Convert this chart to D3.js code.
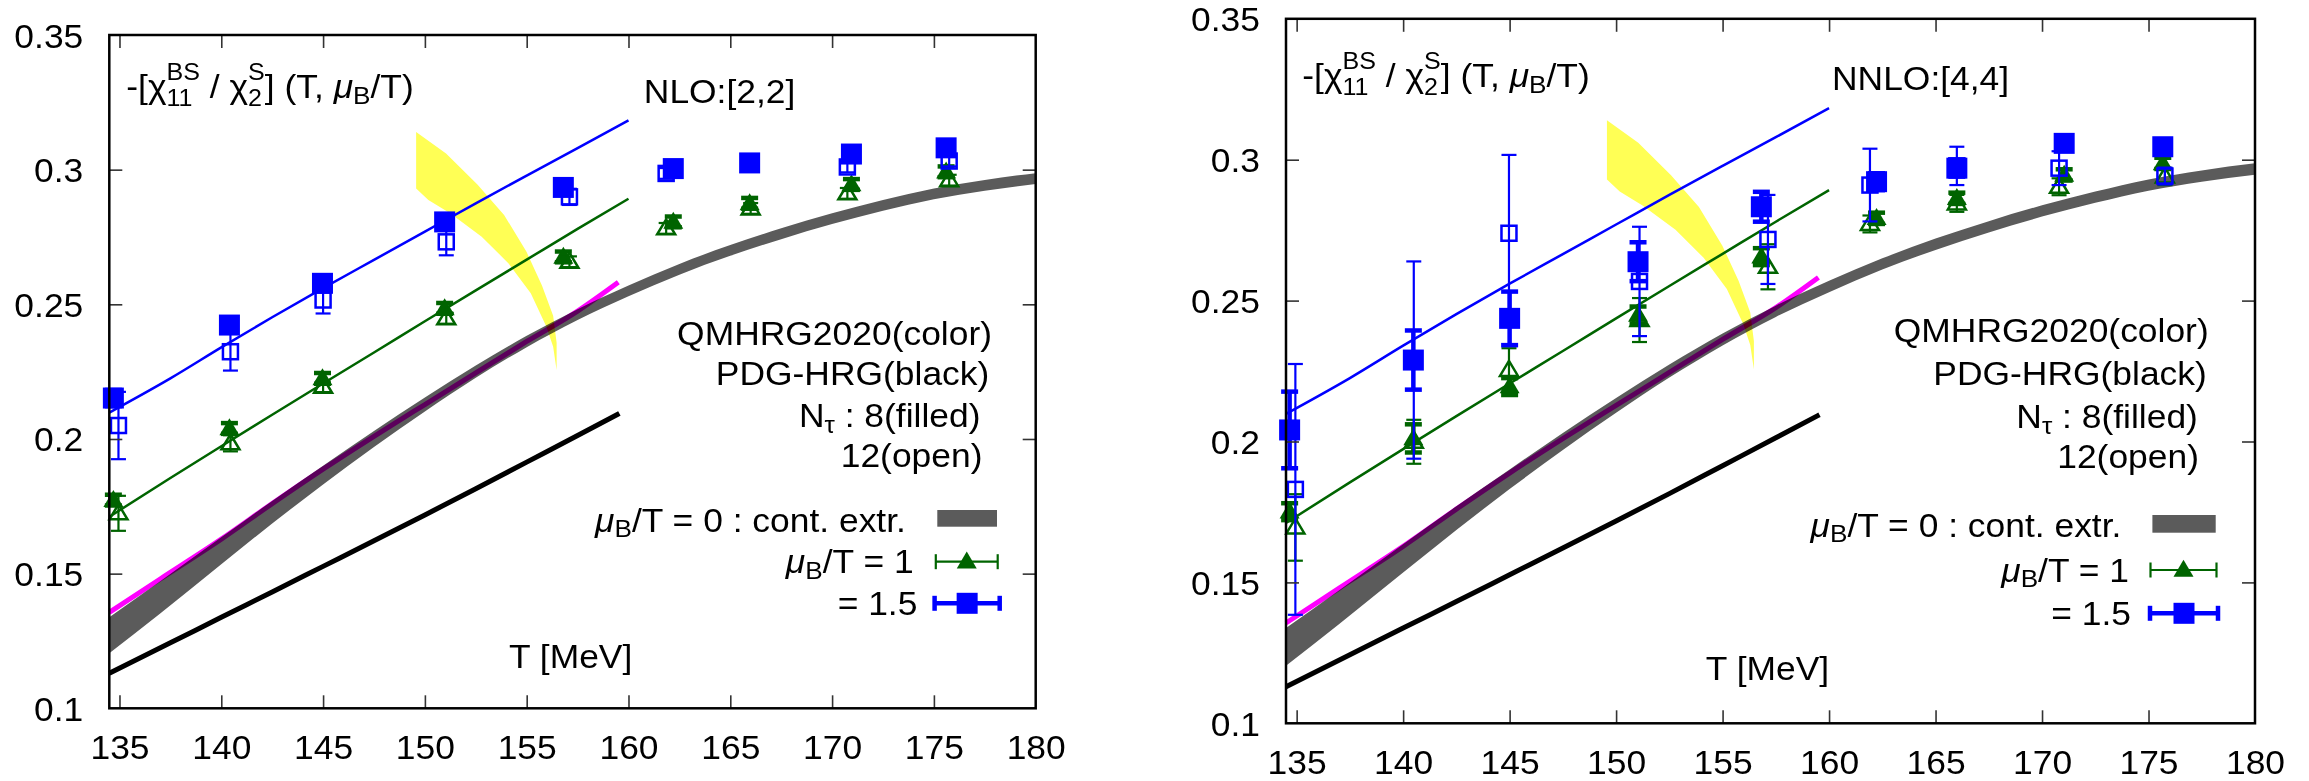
<!DOCTYPE html>
<html>
<head>
<meta charset="utf-8">
<script src="https://cdn.jsdelivr.net/npm/d3@7"></script>
<style>
html, body { margin: 0; padding: 0; background: #fff; }
svg text { font-family: "Liberation Sans", Arial, Helvetica, sans-serif; fill: #000; }
</style>
</head>
<body>
<svg id="chart" width="2309" height="781"></svg>
<script>
// axis ticks
const xTicks = [135, 140, 145, 150, 155, 160, 165, 170, 175, 180];
const xTickLabels = ["135", "140", "145", "150", "155", "160", "165", "170", "175", "180"];
const yTicks = [0.1, 0.15, 0.2, 0.25, 0.3, 0.35];
const yTickLabels = ["0.1", "0.15", "0.2", "0.25", "0.3", "0.35"];

// QMHRG2020 curves for mu_B/T = 1 (green) and 1.5 (blue)
const curveT = [134.5, 137.5, 140, 142.5, 145, 147.5, 150, 152.5, 155, 157.5, 160];
const blueCurve = [0.2098, 0.2225, 0.2340, 0.2452, 0.2560, 0.2665, 0.2770, 0.2875, 0.2978, 0.3080, 0.3183];
const greenCurve = [0.1711, 0.1855, 0.1973, 0.2090, 0.2206, 0.2321, 0.2437, 0.2552, 0.2666, 0.2780, 0.2892];

// QMHRG2020 mu_B/T = 0 (magenta)
const magentaT = [134.5, 137, 140, 142.5, 145, 147.5, 150, 152.5, 155, 157.5, 159.5];
const magentaCurve = [0.1356, 0.1480, 0.1628, 0.1760, 0.1888, 0.2010, 0.2128, 0.2245, 0.2362, 0.2475, 0.2582];

// PDG-HRG (black)
const hrgT = [134.5, 137.5, 140, 142.5, 145, 147.5, 150, 152.5, 155, 157.5, 159.55];
const hrgCurve = [0.1130, 0.1243, 0.1338, 0.1432, 0.1527, 0.1622, 0.1718, 0.1815, 0.1914, 0.2013, 0.2095];

// continuum extrapolation at mu_B/T = 0 (grey band)
const bandT = [134.5, 137, 140, 142.5, 145, 147.5, 150, 152.5, 155, 157.5,
               160, 162.5, 165, 167.5, 170, 172.5, 175, 177.5, 180];
const bandLow = [0.1204, 0.1352, 0.1535, 0.1686, 0.1831, 0.1970, 0.2102, 0.2227, 0.2341, 0.2442,
                 0.2530, 0.2610, 0.2680, 0.2742, 0.2798, 0.2847, 0.2890, 0.2922, 0.2947];
const bandHigh = [0.1338, 0.1472, 0.1635, 0.1770, 0.1901, 0.2030, 0.2154, 0.2273, 0.2383, 0.2482,
                  0.2570, 0.2650, 0.2720, 0.2782, 0.2838, 0.2887, 0.2930, 0.2962, 0.2987];

// yellow region (outline, upper edge then lower edge)
const yellowT = [149.57, 151.04, 152.58, 153.89, 154.99, 155.75, 156.30, 156.47, 156.47,
                 156.30, 155.97, 155.20, 154.11, 152.79, 151.26, 150.17, 149.57];
const yellowV = [0.3140, 0.3060, 0.2945, 0.2832, 0.2695, 0.2570, 0.2458, 0.2357, 0.2256,
                 0.2342, 0.2417, 0.2541, 0.2652, 0.2751, 0.2837, 0.2887, 0.2930];

// lattice points, NLO panel
const nloT8 = [134.7, 140.4, 144.97, 150.97, 156.8, 162.2, 165.95, 170.95, 175.6];
const nloT12 = [134.95, 140.45, 145.0, 151.05, 157.1, 161.85, 166.0, 170.75, 175.75];
const nloBlue8 = [0.2152, 0.2423, 0.2578, 0.2806, 0.2934, 0.3004, 0.3025, 0.3058, 0.3081];
const nloBlue8Err = [0.003, 0.002, 0.002, 0.002, 0.002, 0.002, 0.002, 0.002, 0.002];
const nloBlue12 = [0.2050, 0.2324, 0.2516, 0.2732, 0.2899, 0.2986, 0.3022, 0.3010, 0.3032];
const nloBlue12Err = [0.0125, 0.007, 0.005, 0.005, 0.003, 0.002, 0.002, 0.002, 0.002];
const nloGreen8 = [0.1773, 0.2039, 0.2225, 0.2485, 0.2676, 0.2806, 0.2875, 0.2945, 0.2992];
const nloGreen8Err = [0.002, 0.002, 0.002, 0.002, 0.002, 0.002, 0.002, 0.002, 0.002];
const nloGreen12 = [0.1724, 0.1984, 0.2194, 0.2448, 0.2658, 0.2782, 0.2856, 0.2912, 0.2961];
const nloGreen12Err = [0.0065, 0.003, 0.002, 0.002, 0.002, 0.002, 0.002, 0.002, 0.002];

// lattice points, NNLO panel
const nnloT8 = [134.67, 140.48, 145.0, 151.03, 156.82, 162.23, 166.0, 171.04, 175.67];
const nnloT12 = [134.94, 140.5, 144.97, 151.1, 157.13, 161.92, 166.0, 170.8, 175.77];
const nnloBlue8 = [0.2041, 0.2289, 0.2437, 0.2638, 0.2833, 0.2922, 0.2970, 0.3058, 0.3046];
const nnloBlue8Err = [0.0136, 0.0105, 0.0095, 0.0069, 0.0053, 0.003, 0.003, 0.002, 0.002];
const nnloBlue12 = [0.1830, 0.2289, 0.2739, 0.2568, 0.2717, 0.2910, 0.2978, 0.2970, 0.2942];
const nnloBlue12Err = [0.0445, 0.035, 0.0278, 0.0194, 0.0158, 0.0129, 0.0068, 0.006, 0.003];
const nnloGreen8 = [0.1751, 0.2011, 0.2195, 0.2449, 0.2656, 0.2792, 0.2863, 0.2946, 0.2987];
const nnloGreen8Err = [0.003, 0.005, 0.003, 0.003, 0.003, 0.002, 0.002, 0.002, 0.002];
const nnloGreen12 = [0.1695, 0.1999, 0.2254, 0.2431, 0.2620, 0.2772, 0.2845, 0.2904, 0.2940];
const nnloGreen12Err = [0.0118, 0.0078, 0.0077, 0.0078, 0.008, 0.003, 0.003, 0.003, 0.003];

const BLUE = "#0000ff", GREEN = "#006400", GREY = "#5b5b5b", MAGENTA = "#ff00ff", YELLOW = "#ffff55";
const FS = 32.5, FS_SMALL = 24, FS_SCRIPT = 23, SX = 1.09;

const panels = [
    {
        x0: 109.3, x1: 1035.7, yTop: 35, yBot: 708.3,
        order: "NLO:[2,2]", orderPos: [643.8, 103], titlePos: [126.3, 98],
        t8: nloT8, t12: nloT12,
        blue8: nloBlue8, blue8Err: nloBlue8Err, blue12: nloBlue12, blue12Err: nloBlue12Err,
        green8: nloGreen8, green8Err: nloGreen8Err, green12: nloGreen12, green12Err: nloGreen12Err,
        notesRight: [992, 989.3, 980.5, 982.5], notesBase: [345, 385, 426.7, 466.7],
        legRight: [905.9, 913.6, 917.4], legBase: [531.7, 573.3, 615],
        legRect: [937.3, 510, 59.7, 16.7], legGreen: [935.8, 997.7, 561.7], legBlue: [934.6, 999.7, 603.3],
        xlab: [509, 668.3]
    },
    {
        x0: 1286, x1: 2255, yTop: 18.8, yBot: 723.3,
        order: "NNLO:[4,4]", orderPos: [1832, 90], titlePos: [1302.3, 87.3],
        t8: nnloT8, t12: nnloT12,
        blue8: nnloBlue8, blue8Err: nnloBlue8Err, blue12: nnloBlue12, blue12Err: nnloBlue12Err,
        green8: nnloGreen8, green8Err: nnloGreen8Err, green12: nnloGreen12, green12Err: nnloGreen12Err,
        notesRight: [2208.7, 2206.8, 2197.9, 2199], notesBase: [341.7, 385, 428.3, 468.3],
        legRight: [2121.4, 2129, 2131], legBase: [536.7, 581.7, 625],
        legRect: [2152.4, 515, 63.3, 17.7], legGreen: [2150.5, 2216.5, 570], legBlue: [2150, 2218, 613.3],
        xlab: [1705.8, 680]
    }
];

const svg = d3.select("#chart");
svg.append("rect").attr("width", 2309).attr("height", 781).attr("fill", "#fff");

// text helper, slightly widened like the original font
function label(g, x, y, anchor) {
    return g.append("text")
        .attr("transform", `translate(${x},${y}) scale(${SX},1)`)
        .attr("text-anchor", anchor)
        .attr("font-size", FS);
}

function muLabel(t, rest) {
    t.append("tspan").attr("font-style", "italic").text("μ");
    t.append("tspan").attr("font-size", FS_SMALL).attr("dy", 5.5).text("B");
    t.append("tspan").attr("dy", -5.5).text(rest);
}

function measure(s, size) {
    const tmp = svg.append("text").attr("font-size", size).text(s);
    const w = tmp.node().getComputedTextLength();
    tmp.remove();
    return w;
}

function triangle(w, h) {
    return `M0,${-h * 0.6}L${-w / 2},${h * 0.4}L${w / 2},${h * 0.4}Z`;
}

// -[chi^BS_11 / chi^S_2] (T, mu_B/T) with stacked scripts
function drawTitle(g, x0, base) {
    const up = -18.5, down = 8;
    const wBS = measure("BS", FS_SCRIPT), w11 = measure("11", FS_SCRIPT);
    const wS = measure("S", FS_SCRIPT), w2 = measure("2", FS_SCRIPT);
    const t = label(g, x0, base, "start");
    t.append("tspan").text("-[χ");
    t.append("tspan").attr("font-size", FS_SCRIPT).attr("dy", up).text("BS");
    t.append("tspan").attr("font-size", FS_SCRIPT).attr("dx", -wBS).attr("dy", down - up).text("11");
    t.append("tspan").attr("dx", Math.max(0, wBS - w11)).attr("dy", -down).text("\u00a0/\u00a0χ");
    t.append("tspan").attr("font-size", FS_SCRIPT).attr("dy", up).text("S");
    t.append("tspan").attr("font-size", FS_SCRIPT).attr("dx", -wS).attr("dy", down - up).text("2");
    t.append("tspan").attr("dx", Math.max(0, wS - w2)).attr("dy", -down).text("]\u00a0(T,\u00a0");
    t.append("tspan").attr("font-style", "italic").text("μ");
    t.append("tspan").attr("font-size", FS_SMALL).attr("dy", 5.5).text("B");
    t.append("tspan").attr("dy", -5.5).text("/T)");
}

function errorBars(g, x, y, ts, vs, es, color, lw, cap) {
    const eb = g.append("g").attr("stroke", color).attr("stroke-width", lw).attr("fill", "none");
    ts.forEach((t, i) => {
        const cxp = x(t), lo = y(vs[i] - es[i]), hi = y(vs[i] + es[i]);
        eb.append("line").attr("x1", cxp).attr("x2", cxp).attr("y1", lo).attr("y2", hi);
        eb.append("line").attr("x1", cxp - cap / 2).attr("x2", cxp + cap / 2).attr("y1", lo).attr("y2", lo);
        eb.append("line").attr("x1", cxp - cap / 2).attr("x2", cxp + cap / 2).attr("y1", hi).attr("y2", hi);
    });
}

function drawPanel(p) {
    const g = svg.append("g");
    const x = d3.scaleLinear().domain([134.5, 180]).range([p.x0, p.x1]);
    const y = d3.scaleLinear().domain([0.1, 0.35]).range([p.yBot, p.yTop]);

    const line = (ts, vs) => d3.line().x((d, i) => x(ts[i])).y(d => y(d)).curve(d3.curveMonotoneX)(vs);

    // grey band
    g.append("path")
        .attr("d", d3.area().x((d, i) => x(bandT[i])).y0((d, i) => y(bandLow[i])).y1(d => y(d))
            .curve(d3.curveMonotoneX)(bandHigh))
        .attr("fill", GREY);

    // magenta and black curves
    g.append("path").attr("d", line(magentaT, magentaCurve))
        .attr("fill", "none").attr("stroke", MAGENTA).attr("stroke-width", 5)
        .style("mix-blend-mode", "multiply");
    g.append("path").attr("d", line(hrgT, hrgCurve))
        .attr("fill", "none").attr("stroke", "#000").attr("stroke-width", 5);

    // yellow region
    g.append("path")
        .attr("d", d3.line().x((d, i) => x(yellowT[i])).y(d => y(d)).curve(d3.curveLinearClosed)(yellowV))
        .attr("fill", YELLOW).style("mix-blend-mode", "multiply");

    g.append("path").attr("d", line(curveT, greenCurve))
        .attr("fill", "none").attr("stroke", GREEN).attr("stroke-width", 2.5);
    g.append("path").attr("d", line(curveT, blueCurve))
        .attr("fill", "none").attr("stroke", BLUE).attr("stroke-width", 2.5);

    // green triangles
    errorBars(g, x, y, p.t8, p.green8, p.green8Err, GREEN, 4.5, 17);
    g.append("g").selectAll("path").data(p.green8).join("path")
        .attr("transform", (d, i) => `translate(${x(p.t8[i])},${y(d)})`)
        .attr("d", triangle(20, 17)).attr("fill", GREEN);
    errorBars(g, x, y, p.t12, p.green12, p.green12Err, GREEN, 2.2, 15);
    g.append("g").selectAll("path").data(p.green12).join("path")
        .attr("transform", (d, i) => `translate(${x(p.t12[i])},${y(d)})`)
        .attr("d", triangle(18, 15)).attr("fill", "none").attr("stroke", GREEN).attr("stroke-width", 2.5);

    // blue squares
    errorBars(g, x, y, p.t8, p.blue8, p.blue8Err, BLUE, 4.5, 17);
    g.append("g").selectAll("rect").data(p.blue8).join("rect")
        .attr("x", (d, i) => x(p.t8[i]) - 10.5).attr("y", d => y(d) - 10.5)
        .attr("width", 21).attr("height", 21).attr("fill", BLUE);
    errorBars(g, x, y, p.t12, p.blue12, p.blue12Err, BLUE, 2.2, 15);
    g.append("g").selectAll("rect").data(p.blue12).join("rect")
        .attr("x", (d, i) => x(p.t12[i]) - 7.5).attr("y", d => y(d) - 7.5)
        .attr("width", 15).attr("height", 15)
        .attr("fill", "none").attr("stroke", BLUE).attr("stroke-width", 2.5);

    // inward ticks on all four sides
    const inner = xTicks.slice(0, -1);
    const innerY = yTicks.slice(1, -1);
    const tickStyle = sel => {
        sel.select(".domain").remove();
        sel.selectAll("line").attr("stroke", "#333").attr("stroke-width", 1.6);
        sel.selectAll("text").remove();
    };
    g.append("g").attr("transform", `translate(0,${p.yBot})`)
        .call(d3.axisBottom(x).tickValues(inner).tickSize(-13)).call(tickStyle);
    g.append("g").attr("transform", `translate(0,${p.yTop})`)
        .call(d3.axisTop(x).tickValues(inner).tickSize(-13)).call(tickStyle);
    g.append("g").attr("transform", `translate(${p.x0},0)`)
        .call(d3.axisLeft(y).tickValues(innerY).tickSize(-13)).call(tickStyle);
    g.append("g").attr("transform", `translate(${p.x1},0)`)
        .call(d3.axisRight(y).tickValues(innerY).tickSize(-13)).call(tickStyle);

    // tick labels
    const xl = g.append("g").attr("transform", `translate(0,${p.yBot})`)
        .call(d3.axisBottom(x).tickValues(xTicks).tickSize(0).tickFormat((d, i) => xTickLabels[i]));
    xl.select(".domain").remove();
    xl.selectAll("text").attr("font-size", FS).attr("font-family", null)
        .attr("y", 50.5).attr("dy", null).attr("transform", `scale(${SX},1)`);
    const yl = g.append("g").attr("transform", `translate(${p.x0},0)`)
        .call(d3.axisLeft(y).tickValues(yTicks).tickSize(0).tickFormat((d, i) => yTickLabels[i]));
    yl.select(".domain").remove();
    yl.selectAll("text").attr("font-size", FS).attr("font-family", null)
        .attr("x", -26 / SX).attr("y", 12).attr("dy", null).attr("transform", `scale(${SX},1)`);

    // frame
    g.append("rect").attr("x", p.x0).attr("y", p.yTop)
        .attr("width", p.x1 - p.x0).attr("height", p.yBot - p.yTop)
        .attr("fill", "none").attr("stroke", "#000").attr("stroke-width", 2.5);

    // texts
    drawTitle(g, p.titlePos[0], p.titlePos[1]);
    label(g, p.orderPos[0], p.orderPos[1], "start").text(p.order);
    label(g, p.notesRight[0], p.notesBase[0], "end").text("QMHRG2020(color)");
    label(g, p.notesRight[1], p.notesBase[1], "end").text("PDG-HRG(black)");
    const nt = label(g, p.notesRight[2], p.notesBase[2], "end");
    nt.append("tspan").text("N");
    nt.append("tspan").attr("font-size", FS_SMALL).attr("dy", 6).text("τ");
    nt.append("tspan").attr("dy", -6).text("\u00a0: 8(filled)");
    label(g, p.notesRight[3], p.notesBase[3], "end").text("12(open)");
    label(g, p.xlab[0], p.xlab[1], "start").text("T [MeV]");

    // legend
    muLabel(label(g, p.legRight[0], p.legBase[0], "end"), "/T = 0 : cont. extr.");
    muLabel(label(g, p.legRight[1], p.legBase[1], "end"), "/T = 1");
    label(g, p.legRight[2], p.legBase[2], "end").text("= 1.5");

    const [rx, ry, rw, rh] = p.legRect;
    g.append("rect").attr("x", rx).attr("y", ry).attr("width", rw).attr("height", rh).attr("fill", GREY);

    const sample = (xa, xb, yc, color, lw, marker) => {
        const s = g.append("g").attr("stroke", color).attr("stroke-width", lw);
        s.append("line").attr("x1", xa).attr("x2", xb).attr("y1", yc).attr("y2", yc);
        s.append("line").attr("x1", xa).attr("x2", xa).attr("y1", yc - 7.5).attr("y2", yc + 7.5);
        s.append("line").attr("x1", xb).attr("x2", xb).attr("y1", yc - 7.5).attr("y2", yc + 7.5);
        marker(g, (xa + xb) / 2, yc);
    };
    const [ga, gb, gy] = p.legGreen;
    sample(ga, gb, gy, GREEN, 2.2, (gg, cx, cy) =>
        gg.append("path").attr("transform", `translate(${cx},${cy})`).attr("d", triangle(20, 17)).attr("fill", GREEN));
    const [ba, bb, by] = p.legBlue;
    sample(ba, bb, by, BLUE, 4.5, (gg, cx, cy) =>
        gg.append("rect").attr("x", cx - 10.5).attr("y", cy - 10.5).attr("width", 21).attr("height", 21).attr("fill", BLUE));
}

panels.forEach(drawPanel);
</script>
</body>
</html>
